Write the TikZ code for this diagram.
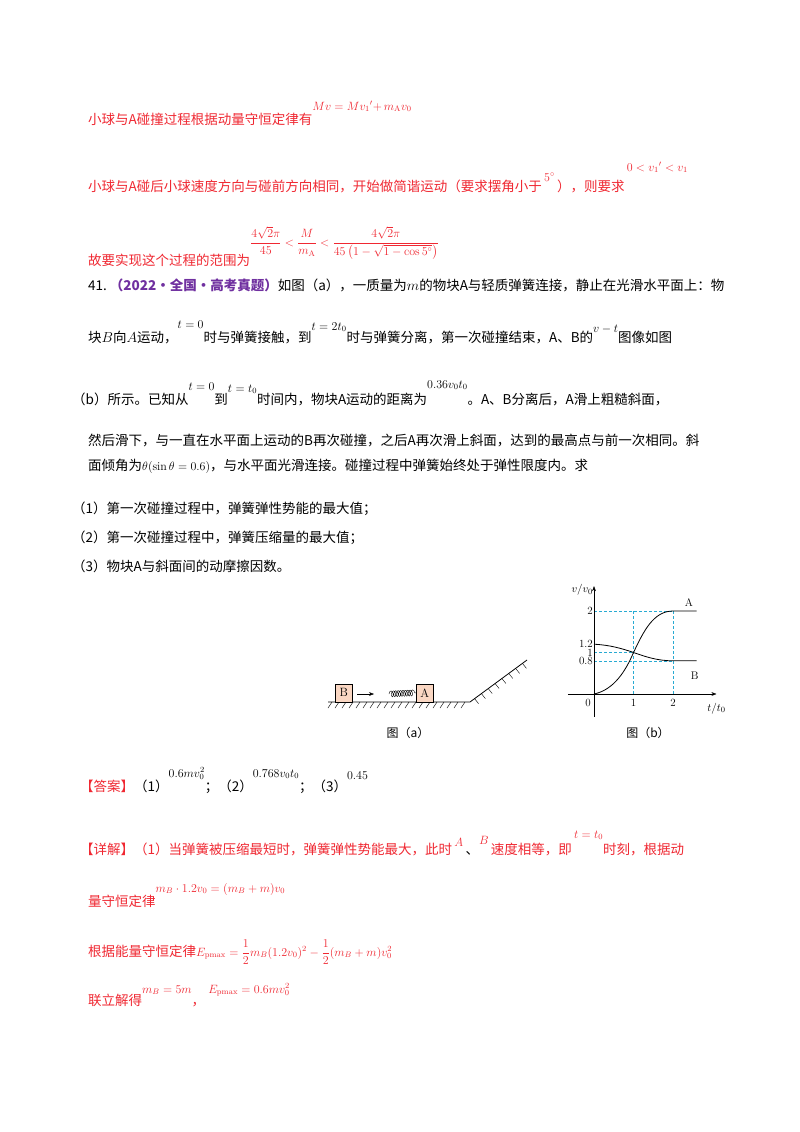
\documentclass[tikz,border=0pt]{standalone}
\usepackage{fontspec}
\usepackage{amsmath}
\newfontfamily\cjkf{Noto Sans CJK SC}
\usetikzlibrary{decorations.pathmorphing,arrows.meta,calc}
\definecolor{redt}{RGB}{240,40,50}
\definecolor{purp}{RGB}{112,48,160}
\definecolor{boxfill}{RGB}{250,215,195}
\definecolor{cyand}{RGB}{40,170,210}
\begin{document}
\begin{tikzpicture}[x=1pt,y=-1pt,
  txt/.style={anchor=base west,inner sep=0pt,font=\fontsize{13.5}{16}\cjkf},
  figcap/.style={inner sep=0pt,font=\fontsize{12}{14}\cjkf},
  lbl/.style={inner sep=1pt,font=\fontsize{11}{13}\selectfont},
  blk/.style={draw,fill=boxfill,minimum width=17pt,minimum height=18pt,inner sep=0pt,anchor=south west,font=\fontsize{12}{14}\selectfont}]
\useasboundingbox[fill=white] (0,0) rectangle (800,1132);
\newcommand{\up}[2]{\raisebox{#1pt}{\fontsize{12}{14}\selectfont$#2$}}
% top lines
\node[txt,redt] (l1) at (88,124) {小球与A碰撞过程根据动量守恒定律有\up{14}{Mv=Mv_1{}'{+}\,m_{\rm A}v_0}};
\node[txt,redt] (l2) at (88,191) {小球与A碰后小球速度方向与碰前方向相同，开始做简谐运动（要求摆角小于\,\up{10}{5^\circ}\,），则要求\,\up{20}{0<v_1{}'<v_1}};
\node[txt,redt] (l3) at (88,265) {故要实现这个过程的范围为\up{19}{\dfrac{4\sqrt2\pi}{45}<\dfrac{M}{m_{\rm A}}<\dfrac{4\sqrt2\pi}{45\left(1-\sqrt{1-\cos5^\circ}\right)}}};
% question
\node[txt] (q1) at (88,290) {41.\ \textcolor{purp}{\bfseries（2022·全国·高考真题）}如图（a），一质量为$m$的物块A与轻质弹簧连接，静止在光滑水平面上：物};
\node[txt] (q2) at (88,342) {块$B$向$A$运动，\up{14}{t=0}时与弹簧接触，到\up{12}{t=2t_0}时与弹簧分离，第一次碰撞结束，A、B的\up{10}{v-t}图像如图};
\node[txt] (q3) at (72,404) {（b）所示。已知从\up{14}{t=0}到\up{12}{t=t_0}时间内，物块A运动的距离为\up{16}{0.36v_0t_0}。A、B分离后，A滑上粗糙斜面，};
\node[txt] (q4) at (88,445) {然后滑下，与一直在水平面上运动的B再次碰撞，之后A再次滑上斜面，达到的最高点与前一次相同。斜};
\node[txt] (q5) at (88,470) {面倾角为\up{0}{\theta(\sin\theta=0.6)}，与水平面光滑连接。碰撞过程中弹簧始终处于弹性限度内。求};
\node[txt] (q6) at (72,513) {（1）第一次碰撞过程中，弹簧弹性势能的最大值；};
\node[txt] (q7) at (72,542) {（2）第一次碰撞过程中，弹簧压缩量的最大值；};
\node[txt] (q8) at (72,571) {（3）物块A与斜面间的动摩擦因数。};
% figure (a)
\draw[thick] (328,702) -- (470,702) -- (527,660);
\foreach \x in {332,339,...,468} \draw (\x,702) -- (\x-4,708);
\foreach \t in {0.08,0.2,...,1.0} \draw ($(470,702)!\t!(527,660)$) -- ++(4,5);
\node[blk] (bB) at (335,702) {B};
\node[blk] (bA) at (416,702) {A};
\draw[-{Stealth[length=5pt]}] (357,694) -- (374,694);
\coordinate (sp) at (389,694);
\draw[decorate,decoration={coil,aspect=0.5,segment length=2.4pt,amplitude=3pt}] (sp) -- (bA.west);
\node[figcap] (ca) at (408,733) {图（a）};
% figure (b)
\begin{scope}[shift={(594,694)},x=39.5pt,y=41.5pt]
\draw[cyand,densely dashed] (0,2) -- (2,2) (1,2) -- (1,0) (2,2) -- (2,0) (0,1) -- (1,1) (0,0.8) -- (2,0.8);
\draw[-{Stealth[length=5pt]}] (-0.66,0) -- (3.1,0);
\draw[-{Stealth[length=5pt]}] (0,-0.55) -- (0,2.6);
\draw[thick] (0,0) .. controls (0.5,0.1) and (0.8,0.55) .. (1,1) .. controls (1.25,1.5) and (1.5,2) .. (2,2) -- (2.6,2);
\draw[thick] (0,1.2) .. controls (0.4,1.18) and (0.7,1.1) .. (1,1) .. controls (1.3,0.9) and (1.6,0.8) .. (2,0.8) -- (2.6,0.8);
\node[lbl,anchor=east] (y2) at (0,2) {2};
\node[lbl,anchor=east] (y12) at (0,1.2) {1.2};
\node[lbl,anchor=east] (y1) at (0,1) {1};
\node[lbl,anchor=east] (y08) at (0,0.8) {0.8};
\node[lbl,anchor=north east] (x0) at (-0.05,-0.1) {0};
\node[lbl,anchor=north] (x1) at (1,-0.1) {1};
\node[lbl,anchor=north] (x2) at (2,-0.1) {2};
\node[lbl] (lA) at (2.4,2.2) {A};
\node[lbl] (lB) at (2.55,0.45) {B};
\node[lbl] (vv) at (-0.3,2.5) {$v/v_0$};
\node[lbl] (tt) at (3.1,-0.35) {$t/t_0$};
\end{scope}
\node[figcap] (cb) at (648,733) {图（b）};
% answer
\node[txt,redt] (a1) at (80,791) {【答案】\textcolor{black}{（1）\up{14}{0.6mv_0^2}；（2）\up{14}{0.768v_0t_0}；（3）\up{12}{0.45}}};
\node[txt,redt] (d1) at (80,854) {【详解】（1）当弹簧被压缩最短时，弹簧弹性势能最大，此时\,\up{8}{A}\,\textcolor{black}{、}\up{10}{B}\,速度相等，即\,\up{16}{t=t_0}时刻，根据动};
\node[txt,redt] (d2) at (88,906) {量守恒定律\up{14}{m_B\cdot1.2v_0=(m_B+m)v_0}};
\node[txt,redt] (d3) at (88,956) {根据能量守恒定律\up{0}{E_{\rm pmax}=\dfrac12m_B(1.2v_0)^2-\dfrac12(m_B+m)v_0^2}};
\node[txt,redt] (d4) at (88,1005) {联立解得\up{12}{m_B=5m}，\ \up{12}{E_{\rm pmax}=0.6mv_0^2}};
\end{tikzpicture}
\end{document}
